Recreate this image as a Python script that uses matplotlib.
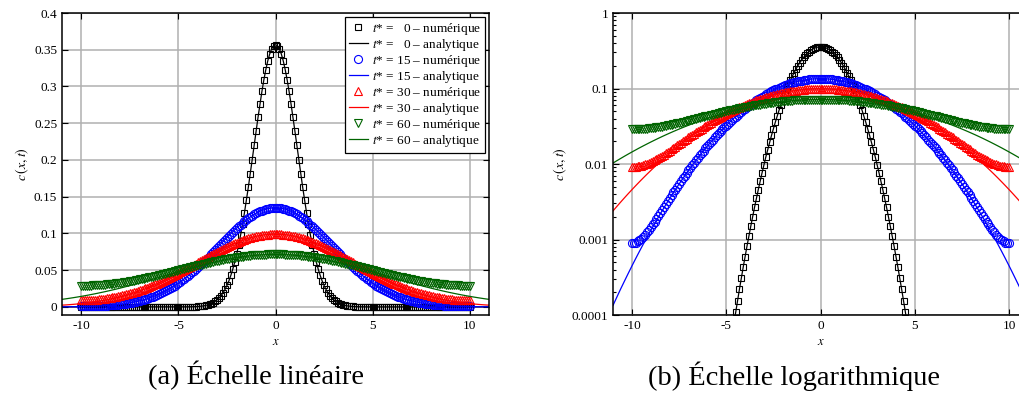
import numpy as np
import matplotlib
matplotlib.use('Agg')
import matplotlib.pyplot as plt
from matplotlib.ticker import FuncFormatter, MultipleLocator

plt.rcParams['font.family'] = ['Liberation Serif', 'DejaVu Serif']
plt.rcParams['mathtext.fontset'] = 'stix'
plt.rcParams['axes.unicode_minus'] = False

# values, x >= 0 only (curves are symmetric)
# t*=0 : step 0.1 from 0 to 11
c0 = [0.3568, 0.3554, 0.3511, 0.3442, 0.3347, 0.3228, 0.3090, 0.2933, 0.2762, 0.2581,
      0.2392, 0.2199, 0.2006, 0.1815, 0.1629, 0.1451, 0.1282, 0.1123, 0.0976, 0.0842,
      0.0720, 0.0611, 0.0515, 0.0430, 0.0356, 0.0293, 0.0239, 0.0193, 0.0155, 0.0124,
      0.00975, 0.00764, 0.00594, 0.00458, 0.00350, 0.00266, 0.00200, 0.00149, 0.00111, 0.000813,
      0.000593, 0.000429, 0.000308, 0.000219, 0.000155, 0.000108, 0.0000753]
c0 = c0 + [0.0] * (111 - len(c0))

# numerical: step 0.1 from 0 to 10
c15_num = [0.13490, 0.13482, 0.13459, 0.13421, 0.13367, 0.13299, 0.13215, 0.13118, 0.13006, 0.12880,
           0.12741, 0.12589, 0.12424, 0.12248, 0.12061, 0.11862, 0.11654, 0.11436, 0.11210, 0.10975,
           0.10733, 0.10485, 0.10231, 0.09971, 0.09707, 0.09439, 0.09167, 0.08894, 0.08619, 0.08343,
           0.08066, 0.07790, 0.07514, 0.07240, 0.06968, 0.06699, 0.06433, 0.06170, 0.05911, 0.05657,
           0.05407, 0.05162, 0.04923, 0.04689, 0.04462, 0.04241, 0.04026, 0.03818, 0.03616, 0.03421,
           0.03233, 0.03052, 0.02877, 0.02710, 0.02549, 0.02395, 0.02248, 0.02107, 0.01973, 0.01845,
           0.01724, 0.01609, 0.01500, 0.01397, 0.01299, 0.01206, 0.01119, 0.01037, 0.009605, 0.008886,
           0.008212, 0.007579, 0.006987, 0.006435, 0.005919, 0.005440, 0.004994, 0.004581, 0.004197, 0.003844,
           0.003517, 0.003217, 0.002940, 0.002688, 0.002455, 0.002245, 0.002050, 0.001878, 0.001719, 0.001581,
           0.001452, 0.001344, 0.001242, 0.001161, 0.001085, 0.001029, 0.000975, 0.000943, 0.000911, 0.000900,
           0.000890]
c30_num = [0.09900, 0.09897, 0.09888, 0.09873, 0.09851, 0.09824, 0.09791, 0.09752, 0.09707, 0.09656,
           0.09600, 0.09538, 0.09471, 0.09399, 0.09321, 0.09238, 0.09150, 0.09058, 0.08961, 0.08859,
           0.08753, 0.08643, 0.08530, 0.08413, 0.08292, 0.08168, 0.08041, 0.07911, 0.07778, 0.07643,
           0.07505, 0.07365, 0.07224, 0.07081, 0.06937, 0.06791, 0.06644, 0.06497, 0.06349, 0.06200,
           0.06051, 0.05902, 0.05753, 0.05605, 0.05457, 0.05310, 0.05163, 0.05018, 0.04873, 0.04734,
           0.04597, 0.04458, 0.04320, 0.04184, 0.04050, 0.03919, 0.03789, 0.03662, 0.03537, 0.03414,
           0.03294, 0.03177, 0.03062, 0.02950, 0.02841, 0.02735, 0.02631, 0.02531, 0.02433, 0.02339,
           0.02247, 0.02159, 0.02073, 0.01991, 0.01911, 0.01835, 0.01761, 0.01692, 0.01624, 0.01561,
           0.01500, 0.01443, 0.01387, 0.01336, 0.01287, 0.01243, 0.01199, 0.01160, 0.01122, 0.01090,
           0.01058, 0.01032, 0.01006, 0.00985, 0.00965, 0.00950, 0.00936, 0.00927, 0.00919, 0.00916,
           0.00913]
c60_num = [0.07149, 0.07149, 0.07146, 0.07141, 0.07134, 0.07125, 0.07113, 0.07100, 0.07084, 0.07066,
           0.07046, 0.07024, 0.06999, 0.06973, 0.06945, 0.06915, 0.06882, 0.06848, 0.06812, 0.06775,
           0.06735, 0.06694, 0.06650, 0.06606, 0.06559, 0.06511, 0.06462, 0.06411, 0.06358, 0.06305,
           0.06250, 0.06194, 0.06136, 0.06078, 0.06019, 0.05959, 0.05897, 0.05835, 0.05772, 0.05709,
           0.05644, 0.05580, 0.05514, 0.05448, 0.05381, 0.05315, 0.05248, 0.05182, 0.05114, 0.05047,
           0.04979, 0.04913, 0.04845, 0.04779, 0.04712, 0.04646, 0.04580, 0.04515, 0.04450, 0.04386,
           0.04322, 0.04260, 0.04197, 0.04137, 0.04076, 0.04017, 0.03958, 0.03901, 0.03845, 0.03790,
           0.03736, 0.03684, 0.03633, 0.03584, 0.03535, 0.03488, 0.03442, 0.03399, 0.03356, 0.03316,
           0.03276, 0.03239, 0.03203, 0.03170, 0.03137, 0.03107, 0.03078, 0.03052, 0.03026, 0.03004,
           0.02983, 0.02965, 0.02947, 0.02932, 0.02918, 0.02908, 0.02898, 0.02892, 0.02886, 0.02884,
           0.02882]

# analytic: step 0.2 from 0 to 11
c15_ana = [0.13490, 0.13459, 0.13367, 0.13215, 0.13006, 0.12741, 0.12424, 0.12061, 0.11654, 0.11210,
           0.10733, 0.10231, 0.09707, 0.09167, 0.08619, 0.08066, 0.07514, 0.06968, 0.06433, 0.05911,
           0.05407, 0.04923, 0.04462, 0.04026, 0.03616, 0.03233, 0.02877, 0.02549, 0.02248, 0.01973,
           0.01724, 0.01500, 0.01299, 0.01119, 0.009605, 0.008203, 0.006975, 0.005903, 0.004973, 0.004170,
           0.003481, 0.002893, 0.002393, 0.001970, 0.001615, 0.001318, 0.001070, 0.000865, 0.000696, 0.000558,
           0.000445, 0.000353, 0.000279, 0.000220, 0.000172, 0.000134]
c30_ana = [0.09900, 0.09888, 0.09851, 0.09791, 0.09707, 0.09600, 0.09471, 0.09321, 0.09150, 0.08961,
           0.08753, 0.08530, 0.08292, 0.08041, 0.07778, 0.07505, 0.07224, 0.06937, 0.06644, 0.06349,
           0.06051, 0.05753, 0.05457, 0.05163, 0.04873, 0.04587, 0.04308, 0.04036, 0.03772, 0.03516,
           0.03270, 0.03034, 0.02807, 0.02591, 0.02386, 0.02192, 0.02009, 0.01836, 0.01674, 0.01523,
           0.01382, 0.01251, 0.01129, 0.01017, 0.009137, 0.008189, 0.007322, 0.006530, 0.005809, 0.005155,
           0.004564, 0.004031, 0.003551, 0.003120, 0.002735, 0.002392]
c60_ana = [0.07137, 0.07132, 0.07119, 0.07096, 0.07064, 0.07024, 0.06974, 0.06917, 0.06851, 0.06776,
           0.06695, 0.06605, 0.06509, 0.06405, 0.06296, 0.06180, 0.06058, 0.05932, 0.05800, 0.05665,
           0.05525, 0.05382, 0.05236, 0.05087, 0.04937, 0.04784, 0.04630, 0.04476, 0.04321, 0.04166,
           0.04012, 0.03858, 0.03706, 0.03555, 0.03406, 0.03259, 0.03114, 0.02972, 0.02832, 0.02696,
           0.02563, 0.02434, 0.02308, 0.02186, 0.02067, 0.01953, 0.01842, 0.01736, 0.01634, 0.01535,
           0.01441, 0.01351, 0.01265, 0.01182, 0.01104, 0.01030]

times = [0, 15, 30, 60]
colors = ['black', 'blue', 'red', 'darkgreen']
markers = ['s', 'o', '^', 'v']
msizes = [4.3, 5.8, 5.6, 5.6]

x0 = np.linspace(0, 11, 111)
x_num = np.linspace(0, 10, 101)
x_ana = np.linspace(0, 11, 56)


def mirror(x, y):
    x = np.asarray(x)
    y = np.asarray(y)
    return np.concatenate([-x[::-1], x[1:]]), np.concatenate([y[::-1], y[1:]])


series = [
    (mirror(x0[:101], c0[:101]), mirror(x0, c0)),
    (mirror(x_num, c15_num), mirror(x_ana, c15_ana)),
    (mirror(x_num, c30_num), mirror(x_ana, c30_ana)),
    (mirror(x_num, c60_num), mirror(x_ana, c60_ana)),
]

fig = plt.figure(figsize=(10.2, 3.94), dpi=100)
ax1 = fig.add_axes([0.0608, 0.2005, 0.4186, 0.7665])
ax2 = fig.add_axes([0.601, 0.2005, 0.4069, 0.7665])

for ax in (ax1, ax2):
    for i in range(4):
        (xn, yn), (xa, ya) = series[i]
        lab = r'$t$* = ' + ('  ' if times[i] < 10 else '') + f'{times[i]} – '
        ax.plot(xn, yn, ls='none', marker=markers[i], ms=msizes[i], mfc='none',
                mec=colors[i], mew=0.8, label=lab + 'numérique')
        ax.plot(xa, ya, color=colors[i], lw=0.9, label=lab + 'analytique')
    ax.set_xlim(-11, 11)
    ax.xaxis.set_major_locator(MultipleLocator(5))
    ax.grid(True, which='major', color='#b0b0b0', lw=1.1)
    ax.set_axisbelow(True)
    ax.tick_params(which='both', direction='in', top=True, right=True, labelsize=9.5, width=0.8)
    ax.tick_params(which='major', length=4)
    ax.tick_params(which='minor', length=2)
    ax.set_xlabel(r'$x$', fontsize=9, labelpad=3)
    ax.set_ylabel(r'$c\,(x,t)$', fontsize=10, labelpad=2)
    for s in ax.spines.values():
        s.set_linewidth(1.1)

ax1.set_ylim(-0.011, 0.4)
ax1.set_yticks(np.arange(0, 0.41, 0.05))
ax1.yaxis.set_major_formatter(FuncFormatter(lambda v, p: '%g' % round(v, 3)))
leg = ax1.legend(loc='upper right', bbox_to_anchor=(0.99, 0.988), borderaxespad=0,
                 fontsize=9.5, fancybox=False, edgecolor='black', framealpha=1,
                 labelspacing=0.0, handlelength=1.5, handletextpad=0.25,
                 borderpad=0.3, markerscale=1.0)
leg.get_frame().set_linewidth(0.9)

ax2.set_yscale('log')
ax2.set_ylim(1e-4, 1)
ax2.yaxis.set_major_formatter(FuncFormatter(lambda v, p: '%g' % v))

fig.text(0.251, 0.024, '(a) Échelle linéaire', fontsize=20.5, ha='center', va='baseline')
fig.text(0.778, 0.024, '(b) Échelle logarithmique', fontsize=20.5, ha='center', va='baseline')

fig.savefig('out.png', dpi=100)
